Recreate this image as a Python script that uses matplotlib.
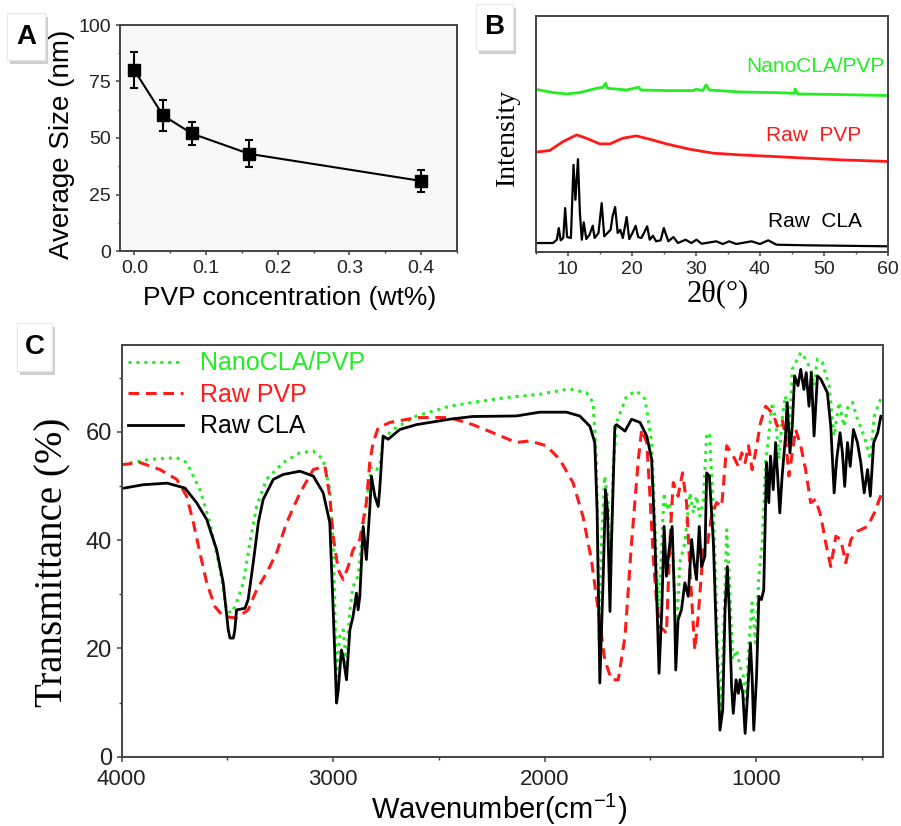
#!/usr/bin/env python3
# Three panel figure: particle size vs PVP (A), XRD patterns (B), FTIR spectra (C)
import numpy as np
import matplotlib
matplotlib.use('Agg')
import matplotlib.pyplot as plt
from matplotlib.ticker import MultipleLocator
from matplotlib.patches import Rectangle

#--------------------------------------------------
# panel A: average size vs PVP concentration
pvpConc = [0.0, 0.04, 0.08, 0.16, 0.40]
avgSize = [80, 60, 52, 43, 31]
sizeErr = [8, 7, 5, 6, 5]

#--------------------------------------------------
# panel B: XRD patterns, 2theta in degrees, intensity in arbitrary units (stacked)
xrdNanoT = [5, 7.7, 9.8, 11.9, 14.5, 15.5, 15.9, 16.2, 19.2, 21.1, 21.4, 25.4, 29.6, 30.1,
            31.1, 31.6, 32.1, 36.8, 42, 45.4, 45.5, 45.9, 52.5, 60]
xrdNanoI = [163, 159.7, 158.3, 159.7, 164, 165, 169, 164, 162.3, 165, 162.3, 161.7, 161.7, 163,
            161.7, 167.3, 162.3, 160.3, 159.7, 159, 163.3, 158.3, 157.7, 156.7]
xrdPvpT  = [5, 7.2, 9.3, 11.4, 12.9, 15, 16.6, 18.6, 20.7, 22.8, 25.4, 29, 32.7, 36.8, 42, 47.3, 52.5, 60]
xrdPvpI  = [100, 101.7, 110.7, 117.3, 114, 108.3, 108.3, 114, 116.3, 113, 108.3, 103, 99, 97.3,
            95.7, 94, 92.3, 90.7]
xrdClaT  = [5, 7.7, 8.3, 8.6, 8.9, 9.3, 9.6, 9.9, 10.5, 10.9, 11.2, 11.6, 11.9, 12.2, 12.5, 12.9,
            13.4, 13.9, 14.2, 14.8, 15.3, 15.7, 16.2, 16.7, 17.0, 17.4, 17.8, 18.2, 18.6, 19.2,
            19.6, 20.1, 20.6, 21.0, 21.5, 21.9, 22.4, 22.8, 23.3, 23.8, 24.5, 25.0, 25.7, 26.5,
            27.2, 28.4, 29.3, 30.1, 30.9, 33.2, 34.2, 35.2, 36.3, 38.7, 40, 41.3, 42.6, 47.3, 52.5, 60]
xrdClaI  = [9, 9, 12.3, 24, 11.7, 14, 44, 15, 14, 87.3, 52.3, 93, 39, 12.3, 29.7, 13,
            17.3, 26.3, 14, 19, 49, 15.7, 19, 22.3, 35.7, 45, 19, 22.3, 14, 35,
            13, 19, 26.3, 15, 14, 19, 25.7, 12.3, 16.3, 10.7, 11.7, 24, 10.7, 15,
            9, 12.3, 9, 12.3, 8.3, 10.7, 8, 10.7, 8, 10.7, 8, 11.7, 7.3, 6.7, 6.3, 5.7]

#--------------------------------------------------
# panel C: FTIR, wavenumber in cm-1, transmittance in %
ftirClaW = [4000, 3900, 3785, 3701, 3646, 3598, 3551, 3520, 3496, 3488, 3472, 3465, 3457, 3417,
            3402, 3378, 3354, 3331, 3283, 3236, 3157, 3094, 3047, 3016, 3000, 2984, 2976, 2961,
            2953, 2937, 2921, 2906, 2890, 2882, 2874, 2858, 2843, 2827, 2819, 2803, 2787, 2780,
            2764, 2740, 2685, 2606, 2449, 2340, 2134, 2024, 1897, 1834, 1786, 1763, 1752, 1739,
            1723, 1712, 1703, 1691, 1684, 1668, 1660, 1620, 1589, 1549, 1517, 1494, 1478, 1459,
            1446, 1435, 1424, 1408, 1397, 1387, 1380, 1369, 1353, 1337, 1321, 1305, 1293, 1282,
            1269, 1258, 1242, 1234, 1221, 1202, 1187, 1171, 1158, 1147, 1136, 1127, 1116, 1108,
            1095, 1084, 1076, 1063, 1052, 1040, 1027, 1019, 1011, 998, 987, 975, 964, 951, 940,
            932, 919, 908, 900, 888, 877, 861, 853, 840, 829, 818, 802, 789, 774, 763, 750, 739,
            726, 710, 694, 663, 647, 631, 619, 603, 592, 581, 568, 555, 540, 521, 505, 489, 473,
            460, 444, 425, 410, 400]
ftirClaT = [49.5, 50.2, 50.5, 49.6, 46.9, 43.8, 38.2, 32.1, 23.4, 21.9, 21.9, 23.4, 27.1, 27.4,
            29.0, 35.8, 43.2, 47.5, 51.2, 52.1, 52.7, 51.8, 48.7, 43.2, 27.1, 9.9, 12.3, 19.7,
            18.5, 14.2, 23.4, 25.9, 30.2, 27.1, 29.6, 42.5, 36.4, 45.6, 51.8, 48.1, 46.2, 49.3,
            59.2, 58.6, 60.4, 61.3, 62.3, 62.8, 62.9, 63.6, 63.6, 62.9, 61.0, 58.0, 45.6, 13.6,
            33.3, 49.3, 45.6, 26.8, 39.5, 61.0, 61.3, 60.1, 62.3, 61.7, 59.2, 54.9, 39.5, 15.4,
            27.1, 42.5, 33.3, 39.5, 42.5, 30.2, 16.0, 25.3, 27.1, 32.1, 29.6, 40.1, 35.8, 32.7,
            42.5, 35.1, 37.0, 52.4, 51.8, 39.5, 21.0, 4.9, 8.6, 27.1, 35.1, 27.1, 12.9, 8.0,
            14.2, 11.7, 14.2, 11.7, 4.3, 11.7, 21.0, 14.8, 4.9, 14.8, 29.6, 29.0, 30.8, 54.3, 46.9,
            55.5, 49.3, 58.0, 53.0, 45.0, 51.8, 59.2, 65.4, 56.1, 61.0, 70.3, 68.5, 71.5, 67.8, 70.9, 64.7, 70.9,
            59.2, 70.3, 69.7, 67.2, 61.0, 48.7, 54.9, 59.8, 56.1, 49.9, 58.0, 53.6, 60.4, 58.0, 54.3, 48.7, 53.0,
            48.1, 58.0, 59.8, 62.9, 62.3]
ftirNanoW = [4000, 3866, 3740, 3693, 3630, 3583, 3535, 3504, 3480, 3457, 3425, 3394, 3362, 3315,
             3236, 3157, 3094, 3047, 3016, 3000, 2984, 2969, 2953, 2937, 2921, 2906, 2882, 2866,
             2843, 2819, 2795, 2780, 2764, 2717, 2606, 2449, 2340, 2181, 2024, 1882, 1802, 1771,
             1755, 1742, 1731, 1716, 1700, 1688, 1676, 1660, 1612, 1565, 1525, 1494, 1478, 1462,
             1446, 1435, 1424, 1408, 1392, 1377, 1361, 1337, 1313, 1297, 1282, 1266, 1250, 1234,
             1221, 1202, 1187, 1171, 1155, 1139, 1127, 1111, 1092, 1076, 1060, 1047, 1036, 1019,
             1003, 987, 971, 955, 940, 924, 908, 892, 877, 861, 845, 829, 813, 789, 766, 742,
             726, 710, 687, 655, 631, 608, 584, 565, 544, 521, 489, 460, 441, 418, 400]
ftirNanoT = [53.9, 54.9, 55.2, 54.3, 49.3, 43.2, 34.5, 27.1, 26.5, 28.4, 32.1, 39.5, 46.2, 51.2,
             54.3, 56.1, 56.4, 54.9, 49.3, 39.5, 14.8, 22.2, 23.4, 17.3, 27.1, 31.4, 33.3, 39.5,
             46.9, 53.6, 53.0, 53.6, 58.6, 60.4, 62.9, 64.7, 65.4, 66.3, 66.9, 67.9, 67.2, 65.4,
             54.9, 21.0, 39.5, 51.8, 46.9, 33.3, 53.0, 61.7, 66.6, 67.5, 66.0, 58.0, 42.5, 27.1,
             39.5, 48.7, 45.6, 46.9, 36.4, 22.2, 35.8, 39.5, 48.7, 45.0, 48.1, 44.4, 46.9, 59.2,
             59.8, 45.6, 27.1, 7.4, 21.0, 41.9, 33.3, 17.9, 19.7, 16.6, 14.8, 9.9, 19.7, 28.4,
             21.0, 33.3, 39.5, 54.3, 59.2, 65.4, 62.3, 54.9, 62.3, 66.6, 58.0, 71.5, 72.8, 74.6, 73.4, 71.5,
             68.5, 73.4, 72.8, 68.5, 59.2, 65.4, 61.0, 64.7, 65.4, 62.3, 59.2, 54.9, 62.9, 65.4, 66.9]
ftirPvpW = [4000, 3913, 3819, 3740, 3693, 3661, 3630, 3598, 3559, 3520, 3457, 3402, 3362, 3315,
            3268, 3220, 3157, 3094, 3039, 3016, 3000, 2976, 2953, 2929, 2906, 2874, 2843, 2827,
            2811, 2787, 2732, 2606, 2449, 2340, 2245, 2134, 2071, 1992, 1929, 1866, 1819, 1779,
            1747, 1716, 1684, 1652, 1620, 1589, 1557, 1541, 1517, 1502, 1486, 1470, 1454, 1438,
            1424, 1408, 1392, 1369, 1348, 1329, 1313, 1290, 1274, 1250, 1234, 1211, 1187, 1163,
            1139, 1108, 1084, 1068, 1052, 1036, 1019, 1003, 979, 955, 932, 916, 900, 877, 861,
            845, 829, 813, 789, 766, 742, 718, 694, 671, 647, 623, 600, 576, 552, 521, 473, 441, 400]
ftirPvpT = [53.9, 54.3, 53.0, 51.2, 48.1, 43.2, 37.6, 32.1, 27.7, 25.9, 25.6, 27.1, 30.8, 33.9,
            37.6, 43.2, 48.7, 53.0, 53.6, 48.1, 40.7, 34.5, 32.7, 35.1, 38.2, 40.1, 46.9, 54.3,
            58.0, 60.7, 61.7, 62.6, 62.6, 61.3, 59.8, 58.0, 58.3, 57.4, 54.9, 50.6, 44.4, 36.4,
            27.1, 17.9, 14.2, 14.2, 22.2, 39.5, 54.9, 60.4, 58.0, 48.1, 36.4, 28.4, 24.0, 23.4,
            22.8, 39.5, 50.6, 48.1, 52.4, 46.9, 34.5, 19.7, 25.9, 38.2, 38.2, 44.4, 46.9, 46.2,
            57.4, 55.5, 53.6, 56.1, 54.3, 57.4, 53.0, 56.1, 61.7, 64.7, 63.8, 62.9, 61.0, 62.3, 59.2,
            51.8, 56.1, 60.4, 57.4, 53.0, 46.9, 47.5, 44.4, 39.5, 35.1, 40.7, 40.1, 35.8, 40.1, 41.6, 42.5, 45.0, 49.3]

#--------------------------------------------------
# figure setup
plt.rcParams['font.family'] = 'Liberation Sans'
plt.rcParams['mathtext.fontset'] = 'custom'
plt.rcParams['mathtext.rm'] = 'Liberation Sans'
plt.rcParams['mathtext.it'] = 'Liberation Sans:italic'
W, H = 901, 826
fig = plt.figure(figsize=(W/100, H/100), dpi=100)

Green = '#22ee22'
Red   = '#ff1a1a'
Black = '#000000'
Spine = '#444444'

def axpx(left, top, right, bottom):
    # axes from pixel box of the reference picture
    return fig.add_axes([left/W, 1-bottom/H, (right-left)/W, (bottom-top)/H])

def style(ax, size, major=3.5):
    for s in ax.spines.values():
        s.set_color(Spine)
        s.set_linewidth(1.4)
    ax.tick_params(which='both', direction='out', top=False, right=False, color=Spine,
                   labelsize=size, labelcolor='#222222')
    ax.tick_params(which='major', length=major, width=1.1)
    ax.tick_params(which='minor', length=major*0.6, width=1.0)

def panel_label(txt, x0, y0, x1, y1):
    # white box with a soft grey shadow, pixel coordinates
    fig.patches.append(Rectangle(((x0+3)/W, 1-(y1+4)/H), (x1-x0)/W, (y1-y0)/H,
                                 transform=fig.transFigure, fc='#cfcfcf', ec='none', zorder=5))
    fig.patches.append(Rectangle((x0/W, 1-y1/H), (x1-x0)/W, (y1-y0)/H,
                                 transform=fig.transFigure, fc='white', ec='#e8e8e8', lw=0.8, zorder=6))
    fig.text((x0+x1)/2/W, 1-(y0+y1)/2/H, txt, ha='center', va='center', fontsize=20,
             fontweight='bold', zorder=7)

#--------------------------------------------------
# panel A
ax1 = axpx(120, 25, 457, 251)
ax1.set_facecolor('#f8f8f8')
ax1.errorbar(pvpConc, avgSize, yerr=sizeErr, color=Black, lw=1.5, marker='s', ms=8.5,
             capsize=3, elinewidth=1.5, capthick=1.5)
ax1.set_xlim(-0.02, 0.45)
ax1.set_ylim(0, 100)
ax1.xaxis.set_major_locator(MultipleLocator(0.1))
ax1.xaxis.set_minor_locator(MultipleLocator(0.05))
ax1.yaxis.set_major_locator(MultipleLocator(25))
ax1.yaxis.set_minor_locator(MultipleLocator(12.5))
ax1.set_xticks([0, 0.1, 0.2, 0.3, 0.4], ['0.0', '0.1', '0.2', '0.3', '0.4'])
style(ax1, 14, 3)
ax1.set_xlabel('PVP concentration (wt%)', fontsize=19)
ax1.xaxis.set_label_coords(0.503, -0.208)
ax1.xaxis.label.set_va('center')
ax1.set_ylabel('Average Size (nm)', fontsize=20)
ax1.yaxis.set_label_coords(-0.172, 0.473)
ax1.yaxis.label.set_va('center')

#--------------------------------------------------
# panel B
ax2 = axpx(535.7, 15.7, 888, 252)
ax2.plot(xrdNanoT, xrdNanoI, color=Green, lw=2)
ax2.plot(xrdPvpT, xrdPvpI, color=Red, lw=2)
ax2.plot(xrdClaT, xrdClaI, color=Black, lw=1.6)
ax2.set_xlim(5, 60)
ax2.set_ylim(0, 236.7)
ax2.xaxis.set_major_locator(MultipleLocator(10))
ax2.xaxis.set_minor_locator(MultipleLocator(5))
ax2.set_yticks([])
style(ax2, 14, 3)
ax2.text(0.99, 0.786, 'NanoCLA/PVP', color=Green, fontsize=15, ha='right', va='center',
         transform=ax2.transAxes)
ax2.text(0.925, 0.495, 'Raw  PVP', color=Red, fontsize=15, ha='right', va='center',
         transform=ax2.transAxes)
ax2.text(0.925, 0.127, 'Raw  CLA', color=Black, fontsize=15, ha='right', va='center',
         transform=ax2.transAxes)
ax2.set_xlabel('2θ(°)', fontsize=22, fontfamily='Liberation Serif')
ax2.xaxis.set_label_coords(0.516, -0.178)
ax2.xaxis.label.set_va('center')
ax2.set_ylabel('Intensity', fontsize=20, fontfamily='Liberation Serif')
ax2.yaxis.set_label_coords(-0.081, 0.485)
ax2.yaxis.label.set_va('center')

#--------------------------------------------------
# panel C
ax3 = axpx(121.7, 345, 883, 756.7)
ax3.plot(ftirNanoW, ftirNanoT, color=Green, lw=2.2, ls=(0, (1, 1.6)), label='NanoCLA/PVP')
ax3.plot(ftirPvpW, ftirPvpT, color=Red, lw=2.2, ls=(0, (3.5, 2.2)), label='Raw PVP')
ax3.plot(ftirClaW, ftirClaT, color=Black, lw=2.0, label='Raw CLA')
ax3.set_xlim(4000, 400)
ax3.set_ylim(0, 76)
ax3.xaxis.set_major_locator(MultipleLocator(1000))
ax3.xaxis.set_minor_locator(MultipleLocator(500))
ax3.yaxis.set_major_locator(MultipleLocator(20))
ax3.yaxis.set_minor_locator(MultipleLocator(10))
style(ax3, 17, 3.5)
ax3.tick_params(axis='x', which='major', labelsize=16, pad=5.5)
leg = ax3.legend(loc='upper left', bbox_to_anchor=(0, 1), borderaxespad=0, borderpad=0.25,
                 frameon=False, fontsize=18, handlelength=2.2, handletextpad=0.7,
                 labelspacing=0.3, labelcolor='linecolor')
ax3.set_xlabel(r'Wavenumber(cm$^{-1}$)', fontsize=21)
ax3.xaxis.set_label_coords(0.495, -0.127)
ax3.xaxis.label.set_va('center')
ax3.set_ylabel('Transmittance (%)', fontsize=28, fontfamily='Liberation Serif')
ax3.yaxis.set_label_coords(-0.090, 0.473)
ax3.yaxis.label.set_va('center')

#--------------------------------------------------
# boxed panel letters
panel_label('A', 7, 13, 45, 60)
panel_label('B', 476, 4, 513, 50)
panel_label('C', 17, 323, 52, 371)

fig.savefig('out.png', dpi=100)
print('Written file out.png')
